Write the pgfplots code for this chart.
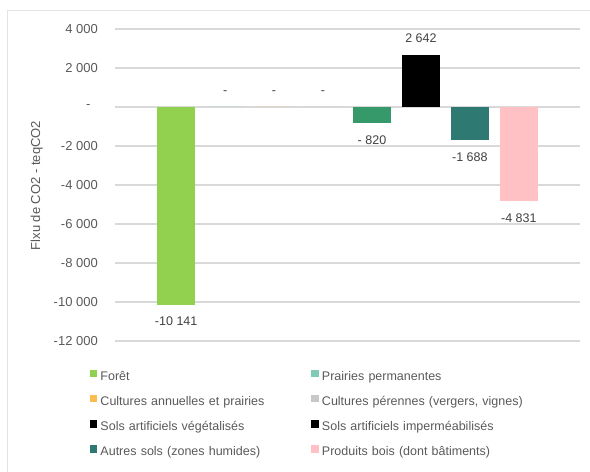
\documentclass[border=0pt]{standalone}
\usepackage{fontspec}
\setmainfont{Liberation Sans}
\usepackage{pgfplots}
\pgfplotsset{compat=1.18}

\definecolor{txtgrey}{HTML}{595959}
\definecolor{lblgrey}{HTML}{404040}
\definecolor{gridgrey}{HTML}{D9D9D9}
\definecolor{frame}{HTML}{E3E3E3}
\definecolor{foret}{HTML}{92D050}
\definecolor{prairie}{HTML}{80CBB8}
\definecolor{cultann}{HTML}{FBBD50}
\definecolor{cultper}{HTML}{C8C8C8}
\definecolor{solveg}{HTML}{35996A}
\definecolor{autres}{HTML}{2E7A73}
\definecolor{bois}{HTML}{FFC1C4}

\newcommand{\lbl}{\fontsize{12.5}{15}\selectfont}

\pgfplotsset{
  sq legend/.style={legend image code/.code={\fill[##1, draw=none] (-0.5pt,-1pt) rectangle (7pt,6.5pt);}},
  flux bar/.style={ybar, bar width=0.78, bar shift=0pt, draw=none, forget plot,
    point meta=explicit symbolic, nodes near coords,
    every node near coord/.append style={font=\lbl, text=lblgrey, inner sep=0pt, outer sep=12.5pt, anchor=south}},
  below/.style={every node near coord/.append style={anchor=north}},
}

\begin{document}
\begin{tikzpicture}[x=1pt,y=1pt]
\useasboundingbox (0,0) rectangle (590,472);
\draw[frame, line width=1pt] (7,-5) -- (7,461) -- (595,461);
\begin{axis}[
  at={(115pt,131pt)}, anchor=south west,
  width=465pt, height=312pt, scale only axis,
  xmin=-1.25, xmax=8.25, ymin=-12000, ymax=4000,
  clip=false,
  xtick=\empty,
  scaled y ticks=false,
  ytick={-12000,-10000,-8000,-6000,-4000,-2000,0,2000,4000},
  yticklabels={-12 000,-10 000,-8 000,-6 000,-4 000,-2 000,{-\hphantom{0}},2 000,4 000},
  yticklabel style={font=\fontsize{13}{15}\selectfont, text=txtgrey, inner sep=0pt, anchor=east, xshift=-17pt},
  ymajorgrids, major grid style={draw=gridgrey, line width=1.1pt},
  axis line style={draw=none}, major tick length=0pt,
  ylabel={Flxu de CO2 - teqCO2},
  every axis y label/.style={at={(axis description cs:-0.168,0.498)}, rotate=90, anchor=center,
    font=\fontsize{13}{15}\selectfont, text=txtgrey},
  legend columns=2,
  legend style={at={(axis description cs:-0.0538,-0.0929)}, anchor=north west,
    draw=none, fill=none, inner sep=0pt, outer sep=0pt, font=\lbl, text=txtgrey,
    nodes={inner sep=0pt, text width=210pt, align=left},
    row sep=13.2pt,
    /tikz/every odd column/.append style={column sep=3pt},
    /tikz/every even column/.append style={column sep=1pt}},
]
% one bar per land-use category
\addplot[flux bar, below, fill=foret] coordinates {(0,-10141) [-10 141]};
\addplot[flux bar, fill=prairie]      coordinates {(1,0) [-]};
\addplot[flux bar, fill=cultann]      coordinates {(2,0) [-]};
\addplot[flux bar, fill=cultper]      coordinates {(3,0) [-]};
\addplot[flux bar, below, fill=solveg] coordinates {(4,-820) [- 820]};
\addplot[flux bar, fill=black]        coordinates {(5,2642) [2 642]};
\addplot[flux bar, below, fill=autres] coordinates {(6,-1688) [-1 688]};
\addplot[flux bar, below, fill=bois]  coordinates {(7,-4831) [-4 831]};

\addlegendimage{sq legend, fill=foret}   \addlegendentry{Forêt}
\addlegendimage{sq legend, fill=prairie} \addlegendentry{Prairies permanentes}
\addlegendimage{sq legend, fill=cultann} \addlegendentry{Cultures annuelles et prairies}
\addlegendimage{sq legend, fill=cultper} \addlegendentry{Cultures pérennes (vergers, vignes)}
\addlegendimage{sq legend, fill=black}   \addlegendentry{Sols artificiels végétalisés}
\addlegendimage{sq legend, fill=black}   \addlegendentry{Sols artificiels imperméabilisés}
\addlegendimage{sq legend, fill=autres}  \addlegendentry{Autres sols (zones humides)}
\addlegendimage{sq legend, fill=bois}    \addlegendentry{Produits bois (dont bâtiments)}
\end{axis}
\end{tikzpicture}
\end{document}
